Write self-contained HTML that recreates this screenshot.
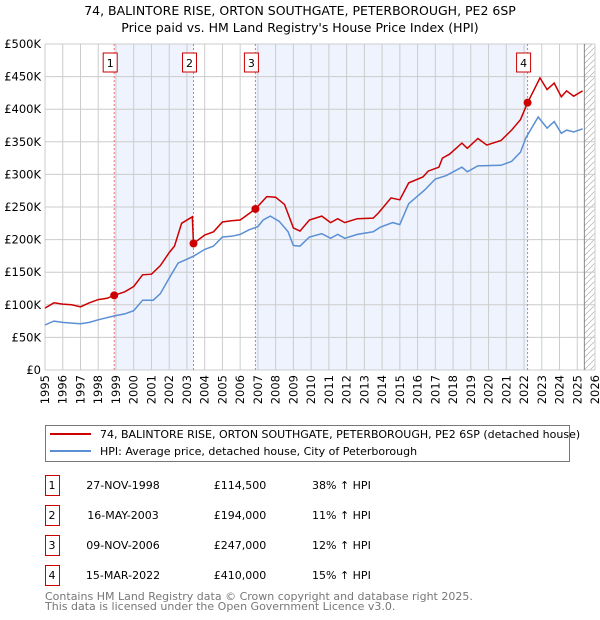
<!DOCTYPE html>
<html><head><meta charset="utf-8"><style>
body{margin:0;background:#fff;font-family:"Liberation Sans","DejaVu Sans",sans-serif;}
#wrap{position:relative;width:600px;height:620px;overflow:hidden;}
</style></head><body><div id="wrap">
<svg id="svg" width="600" height="620" xmlns="http://www.w3.org/2000/svg" font-family="DejaVu Sans, Liberation Sans, sans-serif">
<text x="300" y="15" text-anchor="middle" font-size="12.5" fill="#000">74, BALINTORE RISE, ORTON SOUTHGATE, PETERBOROUGH, PE2 6SP</text>
<text x="300" y="32" text-anchor="middle" font-size="12.5" fill="#000">Price paid vs. HM Land Registry's House Price Index (HPI)</text>
<g id="plot"></g>
<g id="legend">
<rect x="45.5" y="425.5" width="524" height="36" fill="#fff" stroke="#777"/>
<line x1="50" y1="434" x2="91" y2="434" stroke="#cc0000" stroke-width="2"/>
<text x="100" y="438" font-size="11">74, BALINTORE RISE, ORTON SOUTHGATE, PETERBOROUGH, PE2 6SP (detached house)</text>
<line x1="50" y1="451" x2="91" y2="451" stroke="#5b8fd4" stroke-width="2"/>
<text x="100" y="455" font-size="11">HPI: Average price, detached house, City of Peterborough</text>
</g>
<g id="table" font-size="11"></g>
<text x="45" y="600" font-size="11" fill="#777">Contains HM Land Registry data © Crown copyright and database right 2025.</text>
<text x="45" y="610" font-size="11" fill="#777">This data is licensed under the Open Government Licence v3.0.</text>
</svg>
<script>
const yTicks=[0,50000,100000,150000,200000,250000,300000,350000,400000,450000,500000];
const yTickLabels=["£0","£50K","£100K","£150K","£200K","£250K","£300K","£350K","£400K","£450K","£500K"];
const years=[1995,1996,1997,1998,1999,2000,2001,2002,2003,2004,2005,2006,2007,2008,2009,2010,2011,2012,2013,2014,2015,2016,2017,2018,2019,2020,2021,2022,2023,2024,2025,2026];
const saleDates=[1998.9,2003.37,2006.86,2022.2];
const salePrices=[114500,194000,247000,410000];
const saleLabels=["1","2","3","4"];
const saleDateText=["27-NOV-1998","16-MAY-2003","09-NOV-2006","15-MAR-2022"];
const salePriceText=["£114,500","£194,000","£247,000","£410,000"];
const saleHpiText=["38% ↑ HPI","11% ↑ HPI","12% ↑ HPI","15% ↑ HPI"];
const redT=[1995,1995.5,1996,1996.5,1997,1997.5,1998,1998.5,1998.9,1999.5,2000,2000.5,2001,2001.5,2002,2002.3,2002.7,2003.3,2003.37,2004,2004.5,2005,2005.5,2006,2006.86,2007.5,2008,2008.5,2009,2009.37,2009.9,2010.6,2011.1,2011.5,2011.9,2012.6,2013.5,2013.8,2014.5,2015,2015.5,2016.3,2016.6,2017.2,2017.4,2017.8,2018.5,2018.8,2019.4,2019.9,2020.7,2021.3,2021.8,2022.2,2022.9,2023.3,2023.7,2024.1,2024.4,2024.8,2025.3];
const redV=[95000,103000,101000,100000,97000,103000,108000,110000,114500,120000,128000,146000,147000,160000,180000,190000,225000,235000,194000,207000,212000,227000,229000,230000,247000,266000,265000,254000,218000,213000,230000,236000,226000,232000,226000,232000,233000,241000,264000,261000,287000,296000,305000,311000,325000,331000,348000,340000,355000,345000,352000,368000,384000,410000,448000,430000,440000,419000,428000,420000,428000];
const blueT=[1995,1995.5,1996,1996.5,1997,1997.5,1998,1998.9,1999.5,2000,2000.5,2001.1,2001.5,2002,2002.5,2003,2003.4,2004,2004.5,2005,2005.5,2006,2006.5,2007,2007.3,2007.7,2008.2,2008.7,2009,2009.37,2009.9,2010.6,2011.1,2011.5,2011.9,2012.6,2013.5,2013.9,2014.6,2015,2015.5,2016.4,2017,2017.6,2018.5,2018.8,2019.4,2020.7,2021.3,2021.8,2022.1,2022.8,2023.3,2023.7,2024.1,2024.4,2024.8,2025.3];
const blueV=[69000,75000,73000,72000,71000,73000,77000,83000,86000,91000,107000,107000,117000,141000,164000,170000,175000,185000,190000,204000,205000,208000,215000,220000,230000,236000,228000,212000,191000,190000,204000,209000,202000,208000,202000,208000,212000,219000,226000,223000,255000,276000,293000,298000,311000,304000,313000,314000,320000,334000,356000,388000,371000,381000,363000,368000,365000,370000];
const X0=45,X1=595,Y0=370,Y1=44;
function xs(t){return X0+(t-1995)/(2026-1995)*(X1-X0);}
function ys(v){return Y0-v/500000*(Y0-Y1);}
const NS="http://www.w3.org/2000/svg";
const plot=document.getElementById('plot');
function mk(tag,attrs,parent){const e=document.createElementNS(NS,tag);for(const k in attrs)e.setAttribute(k,attrs[k]);(parent||plot).appendChild(e);return e;}
const shades=[[saleDates[0],saleDates[1]],[saleDates[2],saleDates[3]]];
shades.forEach((s,i)=>{const r=mk('rect',{x:xs(s[0]),y:Y1,width:xs(s[1])-xs(s[0]),height:Y0-Y1,fill:'#eef3fd'});

});
const defs=mk('defs',{});
const pat=mk('pattern',{id:'hatch',width:6,height:6,patternUnits:'userSpaceOnUse'},defs);
mk('path',{d:'M0,6 L6,0',stroke:'#bbb','stroke-width':0.8},pat);
const hx=xs(2025.4);
const hr=mk('rect',{x:hx,y:Y1,width:X1-hx,height:Y0-Y1,fill:'url(#hatch)'});


years.forEach(y=>{const l=mk('line',{x1:xs(y),x2:xs(y),y1:Y1,y2:Y0,stroke:'#ccc','stroke-width':1});


const t=mk('text',{x:0,y:0,'font-size':11.5,transform:'translate('+(xs(y)+4)+','+(Y0+5)+') rotate(-90)','text-anchor':'end'});t.textContent=y;

});
yTicks.forEach((v,i)=>{const l=mk('line',{x1:X0,x2:X1,y1:ys(v),y2:ys(v),stroke:'#ccc','stroke-width':1});


const t=mk('text',{x:X0-4,y:ys(v)+4,'font-size':11.5,'text-anchor':'end'});t.textContent=yTickLabels[i];

});
const bl=mk('line',{x1:hx,x2:hx,y1:Y1,y2:Y0,stroke:'#888','stroke-width':1});


saleDates.forEach((d,i)=>{const l=mk('line',{x1:xs(d),x2:xs(d),y1:Y1,y2:Y0,stroke:'#f07070','stroke-width':1,'stroke-dasharray':'2,2'});


const r=mk('rect',{x:xs(d)-11,y:53,width:14,height:19,fill:'#fff',stroke:'#cc0000','stroke-width':1});


const t=mk('text',{x:xs(d)-4,y:67,'font-size':11,'text-anchor':'middle'});t.textContent=saleLabels[i];

});
function path(T,V){return T.map((t,i)=>(i?'L':'M')+xs(t).toFixed(1)+','+ys(V[i]).toFixed(1)).join(' ');}
const pb=mk('path',{d:path(blueT,blueV),fill:'none',stroke:'#5b8fd4','stroke-width':1.5});


const pr=mk('path',{d:path(redT,redV),fill:'none',stroke:'#cc0000','stroke-width':1.5});


saleDates.forEach((d,i)=>{const c=mk('circle',{cx:xs(d),cy:ys(salePrices[i]),r:4,fill:'#cc0000'});

});
const tb=document.getElementById('table');
const rowY=[485,515,545,575];
saleLabels.forEach((s,i)=>{const y=rowY[i];
const r=mk('rect',{x:45.5,y:y-9.5,width:14,height:20,fill:'#fff',stroke:'#cc0000'},tb);


const cells=[[52,s,'middle'],[123,saleDateText[i],'middle'],[240,salePriceText[i],'middle'],[312,saleHpiText[i],'start']];
cells.forEach((c,j)=>{const t=mk('text',{x:c[0],y:y+4,'text-anchor':c[2],'font-size':11},tb);t.textContent=c[1];

});});
</script></div></body></html>
